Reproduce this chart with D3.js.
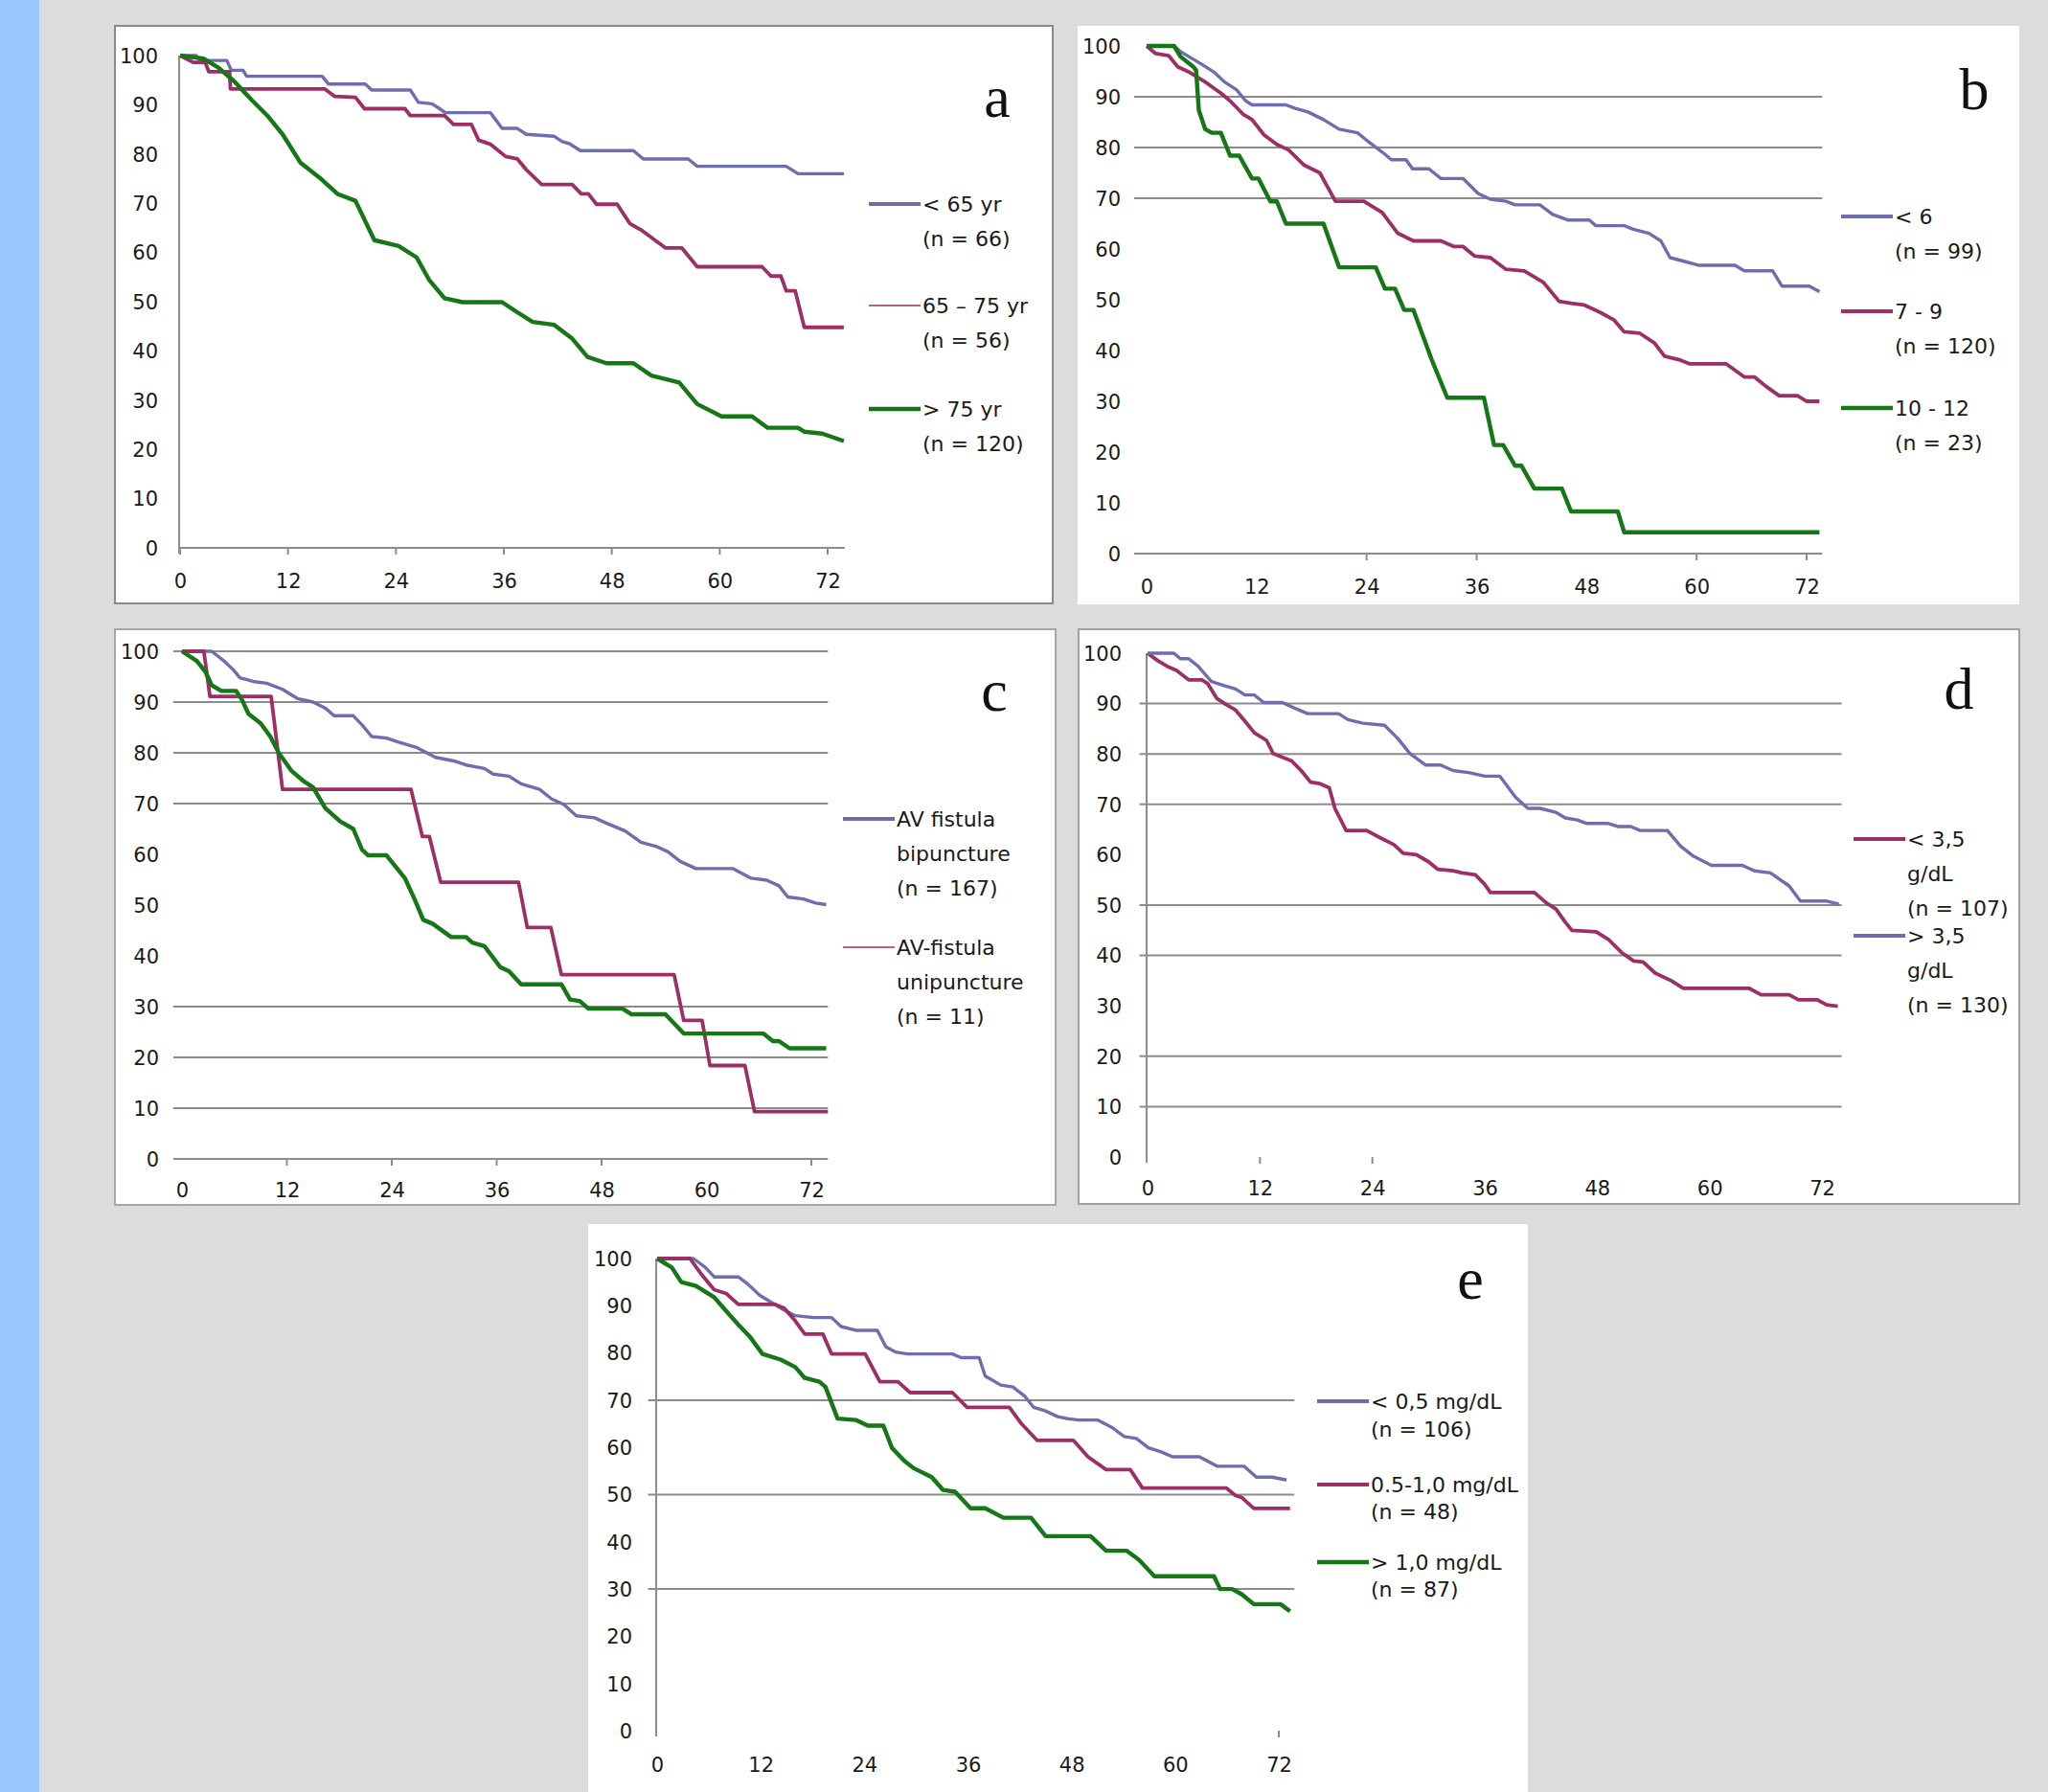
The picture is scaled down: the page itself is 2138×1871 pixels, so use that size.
<!DOCTYPE html>
<html>
<head>
<meta charset="utf-8">
<script src="https://cdn.jsdelivr.net/npm/d3@7"></script>
<style>
  body { margin: 0; background: #dcdcdc; }
  svg { display: block; }
  .tick text { font-family: "DejaVu Sans", "Liberation Sans", sans-serif; fill: #1a1a1a; }
  .legend text { font-family: "DejaVu Sans", "Liberation Sans", sans-serif; fill: #1a1a1a; }
  .letter { font-family: "Liberation Serif", "Times New Roman", serif; fill: #111; }
</style>
</head>
<body>
<div id="chart"></div>
<script>
// axis ticks shared by all five panels
const monthTicks = [0, 12, 24, 36, 48, 60, 72];
const pctTicks = [0, 10, 20, 30, 40, 50, 60, 70, 80, 90, 100];

// a: age
const ageUnder65 = [[0,100],[1.8,100],[2.2,99],[5.2,99],[5.7,97],[7,97],[7.4,95.8],[15.8,95.8],[16.5,94.2],[20.6,94.2],[21.3,93],[25.6,93],[26.5,90.5],[28,90.2],[28.7,89.4],[29.5,88.4],[34.5,88.4],[35.8,85.2],[37.5,85.2],[38.5,84],[41.6,83.6],[42.5,82.5],[43.3,82.1],[44.5,80.7],[50.4,80.7],[51.5,79],[56.5,79],[57.5,77.5],[67.4,77.5],[68.7,76],[73.8,76]];
const age65to75 = [[0,100],[1.5,98.6],[2.8,98.6],[3.2,96.7],[5.5,96.7],[5.6,93.2],[16.1,93.2],[17.2,91.7],[19.5,91.5],[20.5,89.2],[25,89.2],[25.6,87.8],[29.4,87.8],[30.4,86],[32.4,86],[33.2,82.8],[34.5,82],[36.2,79.5],[37.5,79],[38.5,76.8],[40.2,73.8],[43.6,73.8],[44.6,71.9],[45.4,71.9],[46.3,69.8],[48.6,69.8],[50,65.9],[51.4,64.4],[52.8,62.5],[54,60.9],[55.8,60.9],[57.5,57.1],[64.7,57.1],[65.7,55.2],[66.8,55.2],[67.4,52.2],[68.4,52.2],[69.4,44.8],[73.8,44.8]];
const ageOver75 = [[0,100],[2.6,99.4],[4.3,97.5],[6,94.8],[8,90.9],[9.7,87.8],[11.4,84],[13.4,78.2],[15.5,75.2],[17.5,71.9],[19.5,70.5],[21.6,62.5],[24.3,61.3],[26.3,59],[27.7,54.4],[29.4,50.7],[31.4,49.9],[35.8,49.9],[37.2,48.2],[39.2,45.9],[41.6,45.3],[43.6,42.5],[45.3,38.8],[47.4,37.5],[50.4,37.5],[52.4,35],[55.5,33.6],[57.5,29.2],[60.2,26.7],[63.6,26.7],[65.3,24.4],[68.7,24.4],[69.4,23.6],[71.4,23.2],[73.8,21.7]];

// b: score groups
const scoreUnder6 = [[0,100],[3,100],[3.7,98.9],[4.7,97.8],[6.1,96.3],[7.4,94.8],[8.5,92.9],[9.8,91.4],[10.8,89.2],[11.5,88.4],[15.2,88.4],[16.2,87.7],[17.6,87],[19.3,85.5],[21,83.6],[23,82.9],[24.3,81],[25.7,79.1],[26.7,77.6],[28.3,77.6],[29,75.8],[30.8,75.8],[32.1,73.9],[34.5,73.9],[36.2,70.9],[37.5,69.8],[39.2,69.4],[40.2,68.7],[42.9,68.7],[44.3,66.8],[46,65.7],[48.3,65.7],[49,64.6],[52.1,64.6],[53.1,63.9],[54.8,63.1],[56.1,61.6],[57.1,58.3],[58.8,57.5],[60.2,56.8],[64.2,56.8],[65.2,55.7],[68.3,55.7],[69.3,52.7],[72.3,52.7],[73.4,51.6]];
const score7to9 = [[0,100],[1,98.5],[2.4,98.1],[3.4,95.9],[4.7,94.8],[6.4,92.9],[8.1,90.7],[9.1,89.2],[10.5,86.6],[11.5,85.5],[12.8,82.5],[14.2,80.6],[15.5,79.5],[17.2,76.5],[18.9,75],[20.6,69.4],[23.7,69.4],[25.7,67.2],[27.4,63.1],[29.1,61.6],[32.1,61.6],[33.5,60.5],[34.5,60.5],[35.8,58.6],[37.5,58.3],[39.2,56],[41.2,55.7],[43.3,53.4],[45,49.7],[46.3,49.3],[47.7,49],[49.5,47.5],[51,46],[52.1,43.7],[53.8,43.4],[55.4,41.5],[56.5,38.9],[58.1,38.2],[59.2,37.4],[63.2,37.4],[65.2,34.8],[66.3,34.8],[67.6,32.9],[69,31.1],[71,31.1],[72,30],[73.4,30]];
const score10to12 = [[0,100],[3,100],[3.7,97.9],[5.1,95.9],[5.4,95.2],[5.7,87.3],[6.4,83.6],[7.1,82.9],[8.1,82.9],[9.1,78.4],[10.1,78.4],[11.5,73.9],[12.2,73.9],[13.5,69.4],[14.2,69.4],[15.2,65],[19.3,65],[21,56.4],[25,56.4],[26,52.2],[27.1,52.2],[28.1,48],[29.1,48],[31.1,38.2],[32.8,30.7],[36.8,30.7],[37.9,21.4],[38.9,21.4],[40.2,17.3],[40.9,17.3],[42.3,12.8],[45.3,12.8],[46.3,8.3],[51.4,8.3],[52.1,4.2],[73.4,4.2]];

// c: vascular access
const avBipuncture = [[0,100],[3.4,100],[4.8,98.1],[5.9,96.3],[6.6,94.8],[8.3,94],[9.7,93.7],[11.5,92.5],[13.2,90.7],[15,90],[16.4,88.8],[17.4,87.3],[19.6,87.3],[20.6,85.5],[21.7,83.2],[23.4,82.9],[24.8,82.1],[26.9,81],[29,79.1],[31.1,78.4],[32.5,77.6],[34.6,76.9],[35.6,75.8],[37.4,75.4],[38.8,73.9],[40.9,72.8],[42.3,70.9],[43.7,69.8],[45.1,67.6],[47.2,67.2],[48.6,66.1],[50.7,64.6],[52.5,62.4],[54.2,61.6],[55.6,60.5],[57,58.6],[58.8,57.2],[63,57.2],[65.1,55.3],[66.9,54.9],[68.3,53.8],[69.3,51.6],[71.1,51.2],[72.5,50.4],[73.7,50.1]];
const avUnipuncture = [[0,100],[2.5,100],[3.2,91.1],[10.2,91.1],[11.5,72.8],[26.2,72.8],[27.5,63.5],[28.3,63.5],[29.6,54.5],[38.5,54.5],[39.5,45.6],[42.2,45.6],[43.4,36.3],[56.3,36.3],[57.4,27.3],[59.5,27.3],[60.4,18.4],[64.4,18.4],[65.5,9.3],[73.9,9.3]];
const avOther = [[0,100],[1.7,98.1],[2.7,95.9],[3.4,93.3],[4.5,92.2],[6.2,92.2],[6.9,90.3],[7.6,87.7],[9,85.8],[10.1,83.2],[11.1,79.9],[12.5,76.5],[14,74.3],[15,73.2],[16.4,69.1],[18.1,66.5],[19.6,65],[20.6,60.9],[21.3,59.8],[23.4,59.8],[25.5,55.3],[26.6,51.2],[27.6,47.1],[28.7,46.3],[30.8,43.7],[32.5,43.7],[33.2,42.6],[34.6,41.9],[36.4,37.8],[37.4,37],[38.8,34.4],[43.4,34.4],[44.4,31.4],[45.5,31.1],[46.5,29.6],[50.4,29.6],[51.4,28.5],[55.3,28.5],[57.4,24.7],[66.5,24.7],[67.6,23.2],[68.3,23.2],[69.5,21.8],[73.7,21.8]];

// d: albumin
const albuminLow = [[0,100],[1.1,98.5],[2.1,97.4],[3.1,96.6],[4.4,94.7],[5.8,94.7],[6.4,94],[7.4,91],[8.4,89.8],[9.4,88.7],[10.4,86.5],[11.4,84.2],[12.7,82.7],[13.4,80.1],[15.4,78.6],[16.4,76.7],[17.4,74.4],[18.4,74.1],[19.4,73.3],[20,69.2],[21.2,64.8],[23.4,64.8],[24.7,63.5],[26.3,62],[27.3,60.3],[28.7,60],[30,58.6],[31,57.1],[32.6,56.8],[33.6,56.4],[35,56],[36,54.1],[36.6,52.5],[41.3,52.5],[42.6,50.4],[43.6,49.2],[44.6,46.6],[45.3,45],[47.9,44.7],[49.2,43.2],[50.6,40.6],[51.9,38.9],[52.9,38.7],[54.2,36.5],[55.9,35],[57.2,33.5],[64.2,33.5],[65.5,32.2],[68.5,32.2],[69.5,31.2],[71.5,31.2],[72.5,30.2],[73.7,29.9]];
const albuminHigh = [[0,100],[2.8,100],[3.5,98.9],[4.4,98.9],[5.4,97.4],[6.8,94.4],[8.1,93.6],[9.4,92.9],[10.4,91.7],[11.4,91.7],[12.4,90.2],[14.4,90.2],[15.7,89.1],[17.1,88],[20.4,88],[21.4,86.8],[23,86.1],[25.3,85.7],[26.7,83.1],[28,80.1],[29.7,77.8],[31.3,77.8],[32.6,76.7],[34.3,76.3],[36,75.6],[37.6,75.6],[39.3,71.4],[40.6,69.2],[41.9,69.2],[43.6,68.4],[44.6,67.3],[45.9,66.9],[46.9,66.2],[49.2,66.2],[50.2,65.6],[51.6,65.6],[52.6,64.8],[55.5,64.8],[56.9,61.7],[58.2,59.8],[60.2,57.9],[63.5,57.9],[64.8,56.8],[66.5,56.4],[68.5,53.8],[69.7,50.8],[72.5,50.8],[73.8,50.2]];

// e: serum marker groups
const markerUnder05 = [[0,100],[4.2,100],[5.6,98.1],[6.6,96.1],[9.4,96.1],[10.5,94.6],[11.9,92.2],[13.6,90.3],[14.7,89.1],[16,87.9],[18.1,87.5],[20.2,87.5],[21.3,85.6],[23,84.8],[25.5,84.8],[26.5,81.3],[27.6,80.2],[29,79.8],[34.2,79.8],[35.2,79],[37.3,79],[38,75.1],[39.8,73.2],[41.2,72.8],[42.6,70.8],[43.6,68.5],[45,67.7],[46.4,66.5],[47.5,66.1],[48.8,65.8],[51,65.8],[52.7,64.2],[54.1,62.3],[55.5,61.9],[56.9,59.9],[58.3,59.1],[59.7,58],[62.8,58],[64.9,56],[68,56],[69.4,53.7],[71.2,53.7],[72.9,53.1]];
const marker05to10 = [[0,100],[3.8,100],[5.2,96.5],[6.6,93.4],[8,92.6],[9.4,90.3],[13.6,90.3],[14.7,89.5],[16,86.8],[17.1,84],[19.2,84],[20.2,79.8],[24.1,79.8],[25.8,73.9],[27.9,73.9],[29.3,71.6],[34.2,71.6],[35.9,68.5],[40.8,68.5],[42.2,65],[44,61.5],[48.2,61.5],[49.9,58],[52,55.3],[54.8,55.3],[56.2,51.4],[65.9,51.4],[67,49.8],[67.7,49.4],[69.1,47.1],[73.3,47.1]];
const markerOver10 = [[0,100],[1.7,98.1],[2.8,95],[4.5,94.2],[6.6,91.8],[7.7,89.5],[9.4,86],[10.8,83.3],[12.2,79.8],[14.3,78.6],[16,77],[17.1,74.7],[18.8,73.9],[19.5,72.8],[20.9,66.1],[23,65.8],[24.4,64.6],[26.2,64.6],[27.2,59.9],[28.6,57.2],[29.7,55.6],[31.8,53.7],[33.1,51],[34.5,50.6],[36.3,47.1],[38,47.1],[40.1,45.1],[43.3,45.1],[45,41.2],[50.2,41.2],[52,38.1],[54.4,38.1],[55.8,36.2],[57.6,32.7],[64.5,32.7],[65.2,30],[66.6,30],[67.7,28.9],[69.1,26.8],[72.2,26.8],[73.3,25.3]];

const BLUE = '#6e6eae', MAGENTA = '#9c2f66', GREEN = '#167716';

const W = 2138, H = 1871;
const svg = d3.select('#chart').append('svg')
  .attr('width', W).attr('height', H);

svg.append('rect').attr('width', W).attr('height', H).attr('fill', '#dcdcdc');
svg.append('rect').attr('width', 41).attr('height', H).attr('fill', '#99c9ff');

// layout of each panel, all in page pixels
const panels = [
  { letter: 'a', box: [120, 27, 979, 603], border: '#8a8a8a',
    x0: 188, x72: 864, y100: 58, y0: 572, yLabelX: 165, xLabelY: 607,
    grid: [], gridFrom: -1, gridTo: 73.9,
    xAxisLine: [0, 73.9], yAxis: true, tickMarks: monthTicks,
    letterPos: [1041, 122],
    legendX: 907,
    series: [
      { data: ageUnder65, color: BLUE, w: 3.4, lines: ['< 65 yr', '(n = 66)'], ly: 213, lw: 4 },
      { data: age65to75, color: MAGENTA, w: 3.8, lines: ['65 \u2013 75 yr', '(n = 56)'], ly: 319, lw: 1.6 },
      { data: ageOver75, color: GREEN, w: 4.4, lines: ['> 75 yr', '(n = 120)'], ly: 427, lw: 4.5 }
    ] },
  { letter: 'b', box: [1125, 27, 983, 604], border: null,
    x0: 1197, x72: 1886, y100: 48, y0: 578, yLabelX: 1170, xLabelY: 613,
    grid: [90, 80, 70], gridFrom: -1.35, gridTo: 73.7,
    xAxisLine: [-1.35, 73.7], yAxis: false, tickMarks: [24, 36, 60, 72],
    letterPos: [2061, 114],
    legendX: 1922,
    series: [
      { data: scoreUnder6, color: BLUE, w: 3.4, lines: ['< 6', '(n = 99)'], ly: 226, lw: 4 },
      { data: score7to9, color: MAGENTA, w: 3.8, lines: ['7 - 9', '(n = 120)'], ly: 325, lw: 4 },
      { data: score10to12, color: GREEN, w: 4.4, lines: ['10 - 12', '(n = 23)'], ly: 426, lw: 4.5 }
    ] },
  { letter: 'c', box: [120, 657, 982, 601], border: '#a8a8a8',
    x0: 190, x72: 847, y100: 680, y0: 1210, yLabelX: 166, xLabelY: 1243,
    grid: [100, 90, 80, 70, 30, 20, 10, 0], gridFrom: -1, gridTo: 73.9,
    xAxisLine: null, yAxis: false, tickMarks: [12, 24, 36, 48, 72],
    letterPos: [1038, 742],
    legendX: 880,
    series: [
      { data: avBipuncture, color: BLUE, w: 3.4, lines: ['AV fistula', 'bipuncture', '(n = 167)'], ly: 855, lw: 4 },
      { data: avUnipuncture, color: MAGENTA, w: 3.8, lines: ['AV-fistula', 'unipuncture', '(n = 11)'], ly: 989, lw: 1.6 },
      { data: avOther, color: GREEN, w: 4.4, lines: null }
    ] },
  { letter: 'd', box: [1126, 657, 982, 600], border: '#a0a0a0',
    x0: 1198, x72: 1902, y100: 682, y0: 1208, yLabelX: 1171, xLabelY: 1241,
    grid: [90, 80, 70, 50, 40, 20, 10], gridFrom: -0.86, gridTo: 74.1,
    xAxisLine: null, yAxis: true, tickMarks: [12, 24],
    letterPos: [2045, 740],
    legendX: 1935,
    series: [
      { data: albuminLow, color: MAGENTA, w: 3.8, lines: ['< 3,5', 'g/dL', '(n = 107)'], ly: 876, lw: 4 },
      { data: albuminHigh, color: BLUE, w: 3.4, lines: ['> 3,5', 'g/dL', '(n = 130)'], ly: 977, lw: 4 }
    ] },
  { letter: 'e', box: [614, 1278, 981, 593], border: null,
    x0: 686, x72: 1335, y100: 1314, y0: 1807, yLabelX: 660, xLabelY: 1843,
    grid: [70, 50, 30], gridFrom: -1.05, gridTo: 73.8,
    xAxisLine: null, yAxis: true, tickMarks: [72],
    letterPos: [1535, 1356],
    legendX: 1375,
    series: [
      { data: markerUnder05, color: BLUE, w: 3.4, lines: ['< 0,5 mg/dL', '(n = 106)'], ly: 1463, lw: 4, gap: 29 },
      { data: marker05to10, color: MAGENTA, w: 3.8, lines: ['0.5-1,0 mg/dL', '(n = 48)'], ly: 1550, lw: 4, gap: 28 },
      { data: markerOver10, color: GREEN, w: 4.4, lines: ['> 1,0 mg/dL', '(n = 87)'], ly: 1631, lw: 4.5, gap: 28 }
    ] }
];

panels.forEach(p => {
  const g = svg.append('g');
  g.append('rect')
    .attr('x', p.box[0]).attr('y', p.box[1])
    .attr('width', p.box[2]).attr('height', p.box[3])
    .attr('fill', '#fff')
    .attr('stroke', p.border || 'none')
    .attr('stroke-width', 2);

  const x = d3.scaleLinear().domain([0, 72]).range([p.x0, p.x72]);
  const y = d3.scaleLinear().domain([0, 100]).range([p.y0, p.y100]);

  // horizontal gridlines
  g.selectAll('.grid').data(p.grid).join('line')
    .attr('x1', x(p.gridFrom)).attr('x2', x(p.gridTo))
    .attr('y1', d => y(d)).attr('y2', d => y(d))
    .attr('stroke', '#8c8c8c').attr('stroke-width', 2);

  if (p.xAxisLine) {
    g.append('line')
      .attr('x1', x(p.xAxisLine[0])).attr('x2', x(p.xAxisLine[1]))
      .attr('y1', y(0)).attr('y2', y(0))
      .attr('stroke', '#8c8c8c').attr('stroke-width', 2);
  }
  if (p.yAxis) {
    g.append('line')
      .attr('x1', x(0) - 1).attr('x2', x(0) - 1)
      .attr('y1', y(100)).attr('y2', y(0) + 6)
      .attr('stroke', '#8c8c8c').attr('stroke-width', 2);
  }
  g.selectAll('.tickmark').data(p.tickMarks).join('line')
    .attr('x1', d => x(d)).attr('x2', d => x(d))
    .attr('y1', y(0)).attr('y2', y(0) + 7)
    .attr('stroke', '#8c8c8c').attr('stroke-width', 2);

  // axis labels via d3 axes, lines removed
  const yAx = g.append('g')
    .attr('transform', `translate(${p.yLabelX},0)`)
    .call(d3.axisLeft(y).tickValues(pctTicks).tickSize(0).tickPadding(0));
  yAx.select('.domain').remove();
  yAx.selectAll('text').attr('font-size', 21).attr('dy', '0.35em');

  const xAx = g.append('g')
    .attr('transform', `translate(0,${p.xLabelY})`)
    .call(d3.axisBottom(x).tickValues(monthTicks).tickSize(0).tickPadding(0));
  xAx.select('.domain').remove();
  xAx.selectAll('text').attr('font-size', 21).attr('dy', '0.35em');

  const line = d3.line().x(d => x(d[0])).y(d => y(d[1]));
  p.series.forEach(s => {
    g.append('path').datum(s.data)
      .attr('d', line)
      .attr('fill', 'none')
      .attr('stroke', s.color)
      .attr('stroke-width', s.w)
      .attr('stroke-linejoin', 'round');
  });

  // legend
  const lg = g.append('g').attr('class', 'legend');
  p.series.filter(s => s.lines).forEach(s => {
    lg.append('line')
      .attr('x1', p.legendX).attr('x2', p.legendX + 54)
      .attr('y1', s.ly).attr('y2', s.ly)
      .attr('stroke', s.color).attr('stroke-width', s.lw);
    const gap = s.gap || 36;
    s.lines.forEach((t, i) => {
      lg.append('text')
        .attr('x', p.legendX + 56).attr('y', s.ly + i * gap)
        .attr('dy', '0.35em')
        .attr('font-size', 22)
        .text(t);
    });
  });

  g.append('text').attr('class', 'letter')
    .attr('x', p.letterPos[0]).attr('y', p.letterPos[1])
    .attr('text-anchor', 'middle')
    .attr('font-size', 62)
    .text(p.letter);
});
</script>
</body>
</html>
